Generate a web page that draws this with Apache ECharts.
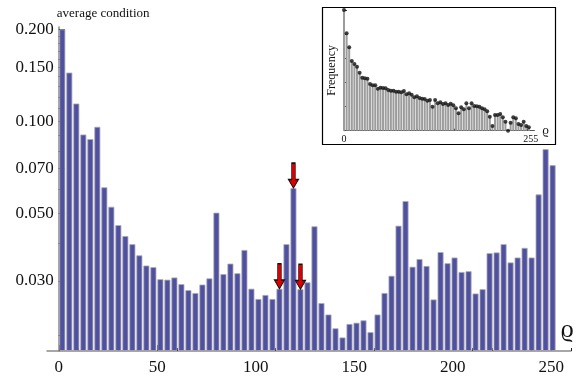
<!DOCTYPE html>
<html>
<head>
<meta charset="utf-8">
<script src="https://cdn.jsdelivr.net/npm/echarts@6/dist/echarts.min.js"></script>
<style>
  html, body { margin: 0; padding: 0; background: #fff; }
  #chart { width: 578px; height: 378px; }
</style>
</head>
<body>
<div id="chart"></div>
<script>
// rho is binned in 72 bins over 0..256
const BIN_WIDTH = 256 / 72;

// main plot: average condition per bin (log scale)
const condition = [
  0.200, 0.1443, 0.1143, 0.0905, 0.0874, 0.0959, 0.0608, 0.0525, 0.0457, 0.0421,
  0.0396, 0.0364, 0.0337, 0.0333, 0.0304, 0.0303, 0.0308, 0.0293, 0.0280, 0.0274,
  0.0292, 0.0306, 0.0502, 0.0316, 0.0342, 0.0318, 0.0379, 0.0283, 0.0262, 0.0270,
  0.0262, 0.0283, 0.0396, 0.0604, 0.0282, 0.0297, 0.0453, 0.0254, 0.0233, 0.0210,
  0.0196, 0.0217, 0.0219, 0.0223, 0.0204, 0.0233, 0.0274, 0.0312, 0.0455, 0.0548,
  0.0334, 0.0354, 0.0336, 0.0261, 0.0373, 0.0343, 0.0358, 0.0321, 0.0323, 0.0273,
  0.0282, 0.0370, 0.0372, 0.0396, 0.0345, 0.0358, 0.0385, 0.0358, 0.0576, 0.0810,
  0.0718
];
// bins marked with red arrows (0-based)
const arrowBins = [31, 33, 34];

// inset: frequency per bin (relative)
const frequency = [
  1.000, 0.807, 0.691, 0.577, 0.553, 0.530, 0.481, 0.439, 0.434, 0.431,
  0.387, 0.376, 0.376, 0.348, 0.356, 0.354, 0.351, 0.337, 0.331, 0.331,
  0.323, 0.323, 0.318, 0.329, 0.302, 0.310, 0.298, 0.277, 0.285, 0.271,
  0.265, 0.263, 0.249, 0.254, 0.199, 0.254, 0.227, 0.235, 0.221, 0.227,
  0.213, 0.224, 0.210, 0.186, 0.144, 0.194, 0.177, 0.227, 0.186, 0.227,
  0.205, 0.202, 0.199, 0.186, 0.177, 0.161, 0.116, 0.039, 0.130, 0.130,
  0.138, 0.111, 0.075, 0.000, 0.066, 0.111, 0.103, 0.056, 0.047, 0.075,
  0.039, 0.028
];

const yLabelTicks = [0.03, 0.05, 0.07, 0.1, 0.15, 0.2];
const yMinorTicks = [0.02, 0.04, 0.06, 0.08, 0.09, 0.11, 0.12, 0.13, 0.14, 0.16, 0.17, 0.18, 0.19];
const xLabelTicks = [0, 50, 100, 150, 200, 250];
const xMinorTicks = [10, 20, 30, 40, 60, 70, 80, 90, 110, 120, 130, 140, 160, 170, 180, 190,
  210, 220, 230, 240, 260];
const insetLabelTicks = [0, 255];

const Y_MIN = 0.0177;
const Y_MAX = 0.2035;
// log axis done by hand so the bars grow from the bottom of the plot
const toAxis = (v) => Math.log10(v / Y_MIN);
const fromAxis = (a) => Y_MIN * Math.pow(10, a);

const X_MIN = -6;
const X_MAX = 260;
const GRID_LEFT = 47;
const GRID_RIGHT = 7;
// the y axis crosses at rho = 0, inside the grid
const Y_AXIS_SHIFT = -(0 - X_MIN) * (578 - GRID_LEFT - GRID_RIGHT) / (X_MAX - X_MIN);

const FONT = '"Liberation Serif", "DejaVu Serif", serif';
const AXIS_GREY = '#8a8a8a';

const chart = echarts.init(document.getElementById('chart'), null, { renderer: 'canvas' });

const mainData = condition.map((v, i) => [(i + 0.5) * BIN_WIDTH, toAxis(v)]);
const insetData = frequency.map((f, i) => [i * BIN_WIDTH, f]);

const arrowPath = 'path://M3.2,0 L6.8,0 L6.8,17 L10,17 L5,26 L0,17 L3.2,17 Z';

chart.setOption({
  animation: false,
  backgroundColor: '#fff',
  graphic: [
    {
      type: 'rect',
      z: 0,
      shape: { x: 322.5, y: 7.5, width: 233, height: 137 },
      style: { fill: '#fff', stroke: '#000', lineWidth: 1.2 },
    },
  ],
  grid: [
    { left: GRID_LEFT, right: GRID_RIGHT, top: 27, bottom: 27 },
    { left: 344, top: 10, width: 190.4, height: 120.7 },
  ],
  xAxis: [
    {
      type: 'value',
      gridIndex: 0,
      min: X_MIN,
      max: X_MAX,
      position: 'bottom',
      name: 'ϱ',
      nameLocation: 'end',
      nameGap: -4,
      nameTextStyle: {
        fontFamily: FONT, fontSize: 26, color: '#111',
        align: 'center', verticalAlign: 'bottom', padding: [0, 0, 8, 0],
      },
      axisLine: { onZero: false, lineStyle: { color: AXIS_GREY, width: 1.5 } },
      axisTick: { customValues: xLabelTicks, inside: true, length: 6, lineStyle: { color: '#222' } },
      axisLabel: { customValues: xLabelTicks, fontFamily: FONT, fontSize: 17, color: '#111', margin: 8 },
      splitLine: { show: false },
    },
    {
      type: 'value',
      gridIndex: 0,
      min: X_MIN,
      max: X_MAX,
      position: 'bottom',
      axisLine: { show: false, onZero: false },
      axisTick: { customValues: xMinorTicks, inside: true, length: 3, lineStyle: { color: '#222' } },
      axisLabel: { show: false },
      splitLine: { show: false },
    },
    {
      type: 'value',
      gridIndex: 1,
      min: 0,
      max: 260,
      position: 'bottom',
      name: 'ϱ',
      nameLocation: 'end',
      nameGap: 3,
      nameTextStyle: { fontFamily: FONT, fontSize: 13, color: '#111' },
      axisLine: { onZero: false, lineStyle: { color: '#555', width: 1 } },
      axisTick: { customValues: xLabelTicks, inside: true, length: 2, lineStyle: { color: '#333' } },
      axisLabel: { customValues: insetLabelTicks, fontFamily: FONT, fontSize: 10, color: '#111', margin: 4 },
      splitLine: { show: false },
    },
  ],
  yAxis: [
    {
      type: 'value',
      gridIndex: 0,
      min: 0,
      max: toAxis(Y_MAX),
      position: 'left',
      offset: Y_AXIS_SHIFT,
      name: 'average condition',
      nameLocation: 'end',
      nameGap: 7,
      nameTextStyle: { fontFamily: FONT, fontSize: 13, color: '#111', align: 'left', padding: [0, 0, 0, -2] },
      axisLine: { onZero: false, lineStyle: { color: AXIS_GREY, width: 1.5 } },
      axisTick: { customValues: yLabelTicks.map(toAxis), inside: true, length: 6, lineStyle: { color: '#222' } },
      axisLabel: {
        customValues: yLabelTicks.map(toAxis),
        formatter: (a) => fromAxis(a).toFixed(3),
        fontFamily: FONT, fontSize: 17, color: '#111', margin: 5,
      },
      splitLine: { show: false },
    },
    {
      type: 'value',
      gridIndex: 0,
      min: 0,
      max: toAxis(Y_MAX),
      position: 'left',
      offset: Y_AXIS_SHIFT,
      axisLine: { show: false, onZero: false },
      axisTick: { customValues: yMinorTicks.map(toAxis), inside: true, length: 3, lineStyle: { color: '#222' } },
      axisLabel: { show: false },
      splitLine: { show: false },
    },
    {
      type: 'value',
      gridIndex: 1,
      min: 0,
      max: 1,
      interval: 0.2,
      position: 'left',
      name: 'Frequency',
      nameLocation: 'middle',
      nameRotate: 90,
      nameGap: 6,
      nameTextStyle: { fontFamily: FONT, fontSize: 12, color: '#111' },
      axisLine: { onZero: false, lineStyle: { color: '#555', width: 1 } },
      axisTick: { inside: true, length: 3, lineStyle: { color: '#333' } },
      axisLabel: { show: false },
      splitLine: { show: false },
    },
  ],
  series: [
    {
      type: 'bar',
      xAxisIndex: 0,
      yAxisIndex: 0,
      data: mainData,
      barWidth: 6,
      itemStyle: { color: '#5050a0', borderColor: '#acacb4', borderWidth: 0.8 },
      markPoint: {
        symbol: arrowPath,
        symbolSize: [10, 25],
        symbolOffset: [0, '-50%'],
        itemStyle: { color: '#dd0000', borderColor: '#111', borderWidth: 1 },
        label: { show: false },
        data: arrowBins.map((i) => ({ coord: mainData[i] })),
      },
    },
    {
      type: 'bar',
      xAxisIndex: 2,
      yAxisIndex: 2,
      data: insetData,
      barWidth: 2,
      itemStyle: { color: '#9c9c9c' },
      z: 3,
    },
    {
      type: 'scatter',
      xAxisIndex: 2,
      yAxisIndex: 2,
      data: insetData,
      symbolSize: 4,
      itemStyle: { color: '#111' },
      z: 4,
    },
  ],
});
</script>
</body>
</html>
